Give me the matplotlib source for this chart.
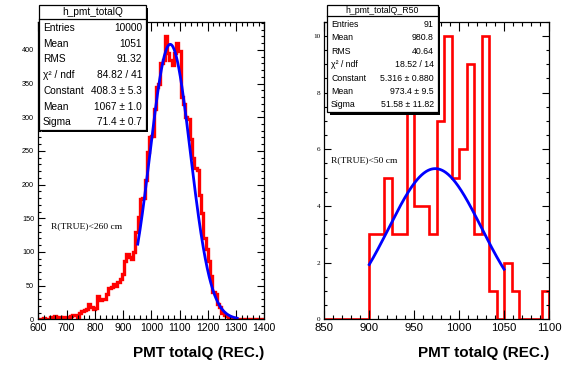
import matplotlib
matplotlib.use("Agg")
import matplotlib.pyplot as plt
import numpy as np
from matplotlib.patches import Rectangle
from matplotlib.ticker import MultipleLocator

# left histogram: h_pmt_totalQ, 100 bins of width 8 from 600 to 1400
edges_all = np.linspace(600, 1400, 101)
counts_all = [
    1, 0, 2, 1, 1, 3, 2, 5, 4, 3, 2, 4, 3, 2, 5, 7, 6, 4, 9, 12, 14, 16, 22, 18, 15,
    17, 34, 28, 30, 30, 37, 46, 48, 53, 49, 55, 60, 68, 87, 97, 92, 90, 100, 130, 152,
    178, 180, 207, 248, 270,
    272, 312, 345, 350, 380, 385, 420, 395, 385, 378, 395, 410, 398, 330, 320, 300, 298,
    268, 240, 224, 222, 185, 158, 120, 105,
    86, 64, 40, 38, 22, 18, 10, 7, 5, 4, 2, 2, 1, 0, 1, 0, 1, 0, 0, 0, 0, 0, 0, 0, 0,
]
fit_all = dict(const=408.3, mean=1067.0, sigma=71.4, lo=952, hi=1304)
stats_all = [
    ("Entries", "10000"), ("Mean", "1051"), ("RMS", "91.32"),
    ("χ² / ndf", "84.82 / 41"), ("Constant", "408.3 ± 5.3"),
    ("Mean", "1067 ± 1.0"), ("Sigma", "71.4 ± 0.7"),
]

# right histogram: h_pmt_totalQ_R50, 30 bins from 850 to 1100
edges_r50 = np.linspace(850, 1100, 31)
counts_r50 = [
    0, 0, 0, 0, 0, 0, 3, 3, 5, 3, 3, 8, 4, 4, 3, 7, 10, 5, 6, 9, 3, 10, 1, 0, 2, 1,
    0, 0, 0, 1,
]
fit_r50 = dict(const=5.316, mean=973.4, sigma=51.58, lo=900, hi=1050)
stats_r50 = [
    ("Entries", "91"), ("Mean", "980.8"), ("RMS", "40.64"),
    ("χ² / ndf", "18.52 / 14"), ("Constant", "5.316 ± 0.880"),
    ("Mean", "973.4 ± 9.5"), ("Sigma", "51.58 ± 11.82"),
]

W, H = 567, 384
SANS = "Liberation Sans"
SERIF = "Liberation Serif"


def fx(px):
    return px / W


def fy(py):
    return 1 - py / H


def stats_box(fig, left, right, top, sep, bottom, title, rows, first, step, size):
    # shadow, then the box itself
    fig.add_artist(Rectangle((fx(left + 2.5), fy(bottom + 2.5)), fx(right - left),
                             (bottom - top) / H, transform=fig.transFigure,
                             facecolor="black", edgecolor="none", zorder=5))
    fig.add_artist(Rectangle((fx(left), fy(bottom)), fx(right - left),
                             (bottom - top) / H, transform=fig.transFigure,
                             facecolor="white", edgecolor="black", lw=0.9, zorder=6))
    fig.add_artist(plt.Line2D([fx(left), fx(right)], [fy(sep), fy(sep)],
                              transform=fig.transFigure, color="black", lw=0.9, zorder=7))
    fig.text(fx((left + right) / 2), fy((top + sep) / 2), title, ha="center", va="center",
             family=SANS, size=size, zorder=8)
    for i, (name, val) in enumerate(rows):
        y = fy(first + i * step)
        fig.text(fx(left + 4), y, name, ha="left", va="center", family=SANS,
                 size=size, zorder=8)
        fig.text(fx(right - 4), y, val, ha="right", va="center", family=SANS,
                 size=size, zorder=8)


def draw_panel(ax, edges, counts, fit, ymax, lw):
    ax.stairs(counts, edges, color="red", lw=lw, baseline=0)
    xs = np.linspace(fit["lo"], fit["hi"], 300)
    ys = fit["const"] * np.exp(-0.5 * ((xs - fit["mean"]) / fit["sigma"]) ** 2)
    ax.plot(xs, ys, color="blue", lw=2.0)
    ax.set_xlim(edges[0], edges[-1])
    ax.set_ylim(0, ymax)
    ax.tick_params(which="both", direction="in", top=True, right=True, width=0.8)
    for s in ax.spines.values():
        s.set_linewidth(0.9)


fig = plt.figure(figsize=(W / 100, H / 100), dpi=100)
fig.patch.set_facecolor("white")

ax1 = fig.add_axes([fx(38.3), fy(319.3), fx(264.3 - 38.3), (319.3 - 22.3) / H])
draw_panel(ax1, edges_all, counts_all, fit_all, 441, 2.4)
ax1.xaxis.set_major_locator(MultipleLocator(100))
ax1.xaxis.set_minor_locator(MultipleLocator(20))
ax1.yaxis.set_major_locator(MultipleLocator(50))
ax1.yaxis.set_minor_locator(MultipleLocator(10))
ax1.tick_params(axis="x", which="major", length=6.5, labelsize=7.6, pad=3)
ax1.tick_params(axis="x", which="minor", length=3.2)
ax1.tick_params(axis="y", which="major", length=5, labelsize=5.2, pad=3)
ax1.tick_params(axis="y", which="minor", length=2.5)
for t in ax1.get_xticklabels() + ax1.get_yticklabels():
    t.set_family(SANS)
fig.text(fx(51), fy(226), "R(TRUE)<260 cm", family=SERIF, size=6.8,
         ha="left", va="center")

ax2 = fig.add_axes([fx(324.3), fy(319.3), fx(549 - 324.3), (319.3 - 21.7) / H])
draw_panel(ax2, edges_r50, counts_r50, fit_r50, 10.5, 1.9)
ax2.xaxis.set_major_locator(MultipleLocator(50))
ax2.xaxis.set_minor_locator(MultipleLocator(10))
ax2.yaxis.set_major_locator(MultipleLocator(2))
ax2.yaxis.set_minor_locator(MultipleLocator(0.5))
ax2.tick_params(axis="x", which="major", length=6.5, labelsize=8.2, pad=3)
ax2.tick_params(axis="x", which="minor", length=3.2)
ax2.tick_params(axis="y", which="major", length=5, labelsize=5.2, pad=3)
ax2.tick_params(axis="y", which="minor", length=2.5)
for t in ax2.get_xticklabels():
    t.set_family(SANS)
for t in ax2.get_yticklabels():
    t.set_family(SERIF)
fig.text(fx(331), fy(160), "R(TRUE)<50 cm", family=SERIF, size=6.8,
         ha="left", va="center")

for ax in (ax1, ax2):
    ax.set_xlabel("PMT totalQ (REC.)", family=SANS, weight="bold", size=11,
                  loc="right", labelpad=9)

stats_box(fig, 39, 146, 5, 19, 130, "h_pmt_totalQ", stats_all, 28, 15.7, 7.3)
stats_box(fig, 327, 438, 4.7, 16, 112, "h_pmt_totalQ_R50", stats_r50, 24.5, 13.4, 6.3)

fig.savefig("out.png", dpi=100, facecolor="white")
